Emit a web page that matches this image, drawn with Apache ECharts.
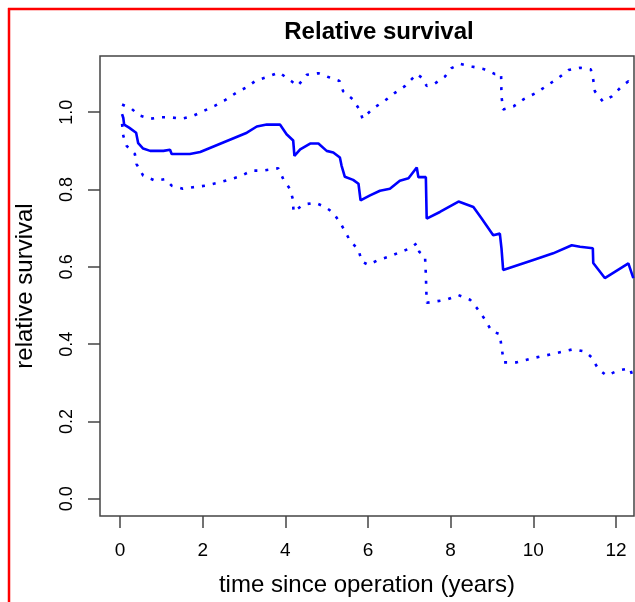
<!DOCTYPE html>
<html>
<head>
<meta charset="utf-8">
<script src="https://cdn.jsdelivr.net/npm/echarts@6/dist/echarts.min.js"></script>
<style>
html,body{margin:0;padding:0;background:#fff;}
#chart{width:635px;height:602px;}
</style>
</head>
<body>
<div id="chart"></div>
<script>
// ---- data ----
const xTicks = [0, 2, 4, 6, 8, 10, 12];
const yTicks = [0.0, 0.2, 0.4, 0.6, 0.8, 1.0];

const survTime  = [0.05, 0.08, 0.10, 0.22, 0.39, 0.44, 0.56, 0.73, 1.05, 1.21, 1.25, 1.69, 1.94, 3.07, 3.31, 3.55, 3.87, 4.03, 4.19, 4.22, 4.36, 4.6, 4.8, 5.0, 5.16, 5.32, 5.36, 5.44, 5.64, 5.77, 5.82, 6.05, 6.29, 6.53, 6.77, 6.98, 7.18, 7.22, 7.4, 7.42, 7.74, 8.19, 8.55, 8.75, 9.03, 9.19, 9.23, 9.27, 10.0, 10.48, 10.93, 11.13, 11.44, 11.45, 11.73, 12.3, 12.42];
const survValue = [0.995, 0.985, 0.968, 0.96, 0.947, 0.92, 0.906, 0.90, 0.90, 0.903, 0.892, 0.892, 0.897, 0.947, 0.963, 0.968, 0.968, 0.943, 0.927, 0.887, 0.904, 0.919, 0.919, 0.90, 0.896, 0.883, 0.862, 0.833, 0.825, 0.815, 0.772, 0.785, 0.797, 0.802, 0.823, 0.829, 0.857, 0.832, 0.832, 0.725, 0.742, 0.769, 0.755, 0.725, 0.682, 0.686, 0.648, 0.592, 0.618, 0.635, 0.656, 0.652, 0.648, 0.61, 0.571, 0.609, 0.571];

const upperTime  = [0.05, 0.08, 0.28, 0.46, 0.73, 0.97, 1.21, 1.48, 1.76, 2.02, 2.3, 2.54, 2.82, 3.07, 3.29, 3.56, 3.85, 4.15, 4.3, 4.52, 4.8, 5.04, 5.31, 5.4, 5.64, 5.79, 5.87, 6.11, 6.41, 6.65, 6.9, 7.18, 7.32, 7.42, 7.6, 7.86, 8.02, 8.23, 8.51, 8.79, 9.07, 9.22, 9.23, 9.27, 9.52, 9.77, 10.07, 10.36, 10.6, 10.85, 11.13, 11.39, 11.45, 11.49, 11.68, 11.9, 12.14, 12.3, 12.42];
const upperValue = [1.02, 1.017, 1.009, 0.992, 0.983, 0.987, 0.987, 0.983, 0.99, 1.003, 1.017, 1.031, 1.051, 1.065, 1.082, 1.091, 1.103, 1.08, 1.068, 1.097, 1.101, 1.091, 1.081, 1.054, 1.033, 1.007, 0.983, 1.009, 1.03, 1.05, 1.068, 1.099, 1.088, 1.068, 1.073, 1.092, 1.114, 1.125, 1.118, 1.112, 1.099, 1.099, 1.041, 1.007, 1.015, 1.034, 1.05, 1.071, 1.088, 1.109, 1.115, 1.111, 1.084, 1.054, 1.028, 1.041, 1.067, 1.08, 1.067];

const lowerTime  = [0.05, 0.08, 0.16, 0.36, 0.40, 0.56, 0.85, 1.09, 1.25, 1.52, 1.77, 2.06, 2.34, 2.62, 2.9, 3.19, 3.47, 3.83, 3.87, 3.95, 4.11, 4.18, 4.2, 4.43, 4.72, 4.96, 5.16, 5.36, 5.56, 5.77, 5.85, 6.01, 6.25, 6.53, 6.77, 7.02, 7.18, 7.24, 7.38, 7.4, 7.42, 7.66, 7.9, 8.19, 8.47, 8.63, 8.83, 8.99, 9.19, 9.23, 9.29, 9.6, 9.92, 10.16, 10.44, 10.72, 10.97, 11.25, 11.41, 11.57, 11.77, 12.06, 12.34, 12.42];
const lowerValue = [0.97, 0.939, 0.913, 0.892, 0.866, 0.836, 0.823, 0.827, 0.81, 0.802, 0.806, 0.81, 0.817, 0.825, 0.834, 0.849, 0.849, 0.855, 0.855, 0.827, 0.802, 0.776, 0.742, 0.761, 0.766, 0.755, 0.74, 0.708, 0.669, 0.644, 0.614, 0.605, 0.618, 0.627, 0.638, 0.648, 0.661, 0.639, 0.627, 0.58, 0.507, 0.511, 0.515, 0.527, 0.515, 0.494, 0.464, 0.434, 0.426, 0.392, 0.353, 0.353, 0.362, 0.368, 0.374, 0.381, 0.387, 0.381, 0.366, 0.336, 0.319, 0.332, 0.338, 0.31];

const titleText = 'Relative survival';
const xName = 'time since operation (years)';
const yName = 'relative survival';

function pairs(xs, ys) { return xs.map((x, i) => [x, ys[i]]); }

const chart = echarts.init(document.getElementById('chart'), null, {renderer: 'canvas'});
const FONT = 'Liberation Sans, Arial, Helvetica, sans-serif';
const axisGrey = '#444';
const blue = '#0000ff';

chart.setOption({
  animation: false,
  backgroundColor: '#ffffff',
  title: {
    text: titleText,
    left: 379,
    top: 20,
    textAlign: 'center',
    padding: 0,
    textStyle: {fontFamily: FONT, fontSize: 24, fontWeight: 'bold', color: '#000'}
  },
  graphic: [
    {type: 'line', shape: {x1: 8, y1: 9, x2: 640, y2: 9}, style: {stroke: '#ff0000', lineWidth: 2.5}, silent: true},
    {type: 'line', shape: {x1: 9, y1: 8, x2: 9, y2: 610}, style: {stroke: '#ff0000', lineWidth: 2.5}, silent: true}
  ],
  grid: {
    left: 100, top: 56, width: 534, height: 464,
    show: true, borderColor: axisGrey, borderWidth: 1.5, backgroundColor: 'transparent'
  },
  xAxis: {
    type: 'value',
    position: 'bottom',
    min: -0.484, max: 12.436,
    axisLine: {show: false, onZero: false},
    splitLine: {show: false},
    axisTick: {show: true, inside: false, length: 12, customValues: xTicks, lineStyle: {color: axisGrey, width: 1.5}},
    axisLabel: {show: true, customValues: xTicks, margin: 25, fontFamily: FONT, fontSize: 19, color: '#000',
      formatter: v => String(v)},
    name: xName, nameLocation: 'middle', nameGap: 57,
    nameTextStyle: {fontFamily: FONT, fontSize: 24, color: '#000'}
  },
  yAxis: {
    type: 'value',
    position: 'left',
    min: -0.04436, max: 1.1454,
    axisLine: {show: false, onZero: false},
    splitLine: {show: false},
    axisTick: {show: true, inside: false, length: 12, customValues: yTicks, lineStyle: {color: axisGrey, width: 1.5}},
    axisLabel: {show: true, customValues: yTicks, rotate: 90, margin: 24, fontFamily: FONT, fontSize: 18, color: '#000',
      formatter: v => v.toFixed(1)},
    name: yName, nameLocation: 'middle', nameGap: 63, nameRotate: 90,
    nameTextStyle: {fontFamily: FONT, fontSize: 24, color: '#000'}
  },
  series: [
    {type: 'line', name: 'upper', data: pairs(upperTime, upperValue), showSymbol: false, symbol: 'none',
      lineStyle: {color: blue, width: 2.6, type: [3, 8], cap: 'butt'}},
    {type: 'line', name: 'lower', data: pairs(lowerTime, lowerValue), showSymbol: false, symbol: 'none',
      lineStyle: {color: blue, width: 2.6, type: [3, 8], cap: 'butt'}},
    {type: 'line', name: 'relative survival', data: pairs(survTime, survValue), showSymbol: false, symbol: 'none',
      lineStyle: {color: blue, width: 2.6, type: 'solid'}}
  ]
});
</script>
</body>
</html>
